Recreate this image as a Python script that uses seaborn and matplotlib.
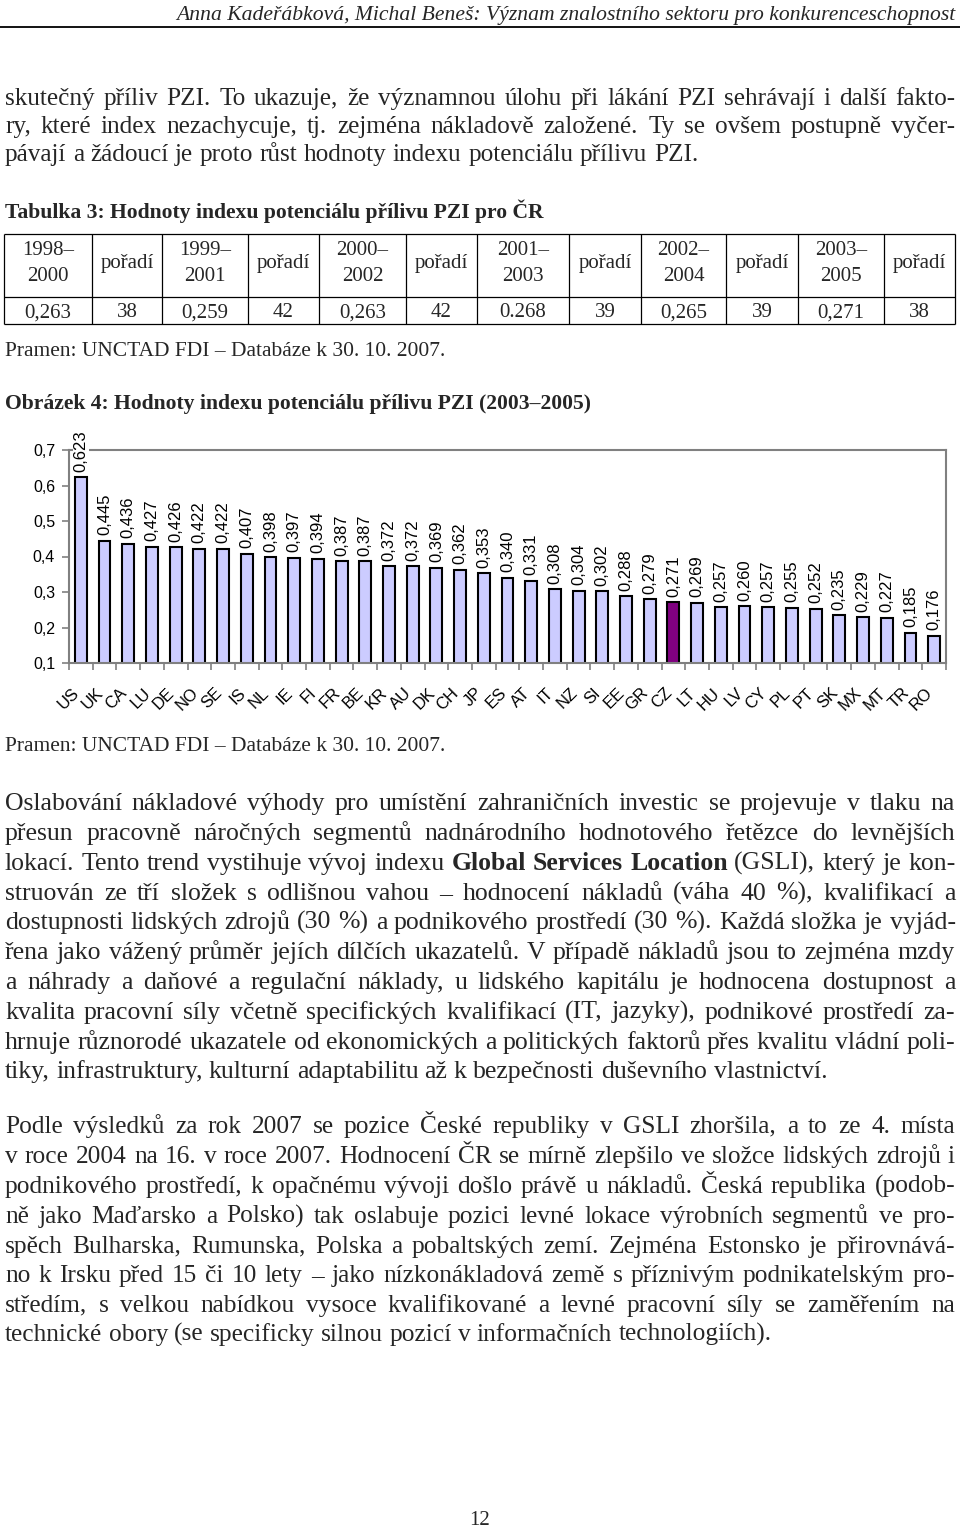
import matplotlib
matplotlib.use("Agg")
import matplotlib.pyplot as plt
import numpy as np
import pandas as pd
import seaborn as sns
from matplotlib.transforms import ScaledTranslation

# ---------------- data ----------------
countries = ["US", "UK", "CA", "LU", "DE", "NO", "SE", "IS", "NL", "IE", "FI", "FR",
             "BE", "KR", "AU", "DK", "CH", "JP", "ES", "AT", "IT", "NZ", "SI", "EE",
             "GR", "CZ", "LT", "HU", "LV", "CY", "PL", "PT", "SK", "MX", "MT", "TR", "RO"]
values = [0.623, 0.445, 0.436, 0.427, 0.426, 0.422, 0.422, 0.407, 0.398, 0.397, 0.394,
          0.387, 0.387, 0.372, 0.372, 0.369, 0.362, 0.353, 0.340, 0.331, 0.308, 0.304,
          0.302, 0.288, 0.279, 0.271, 0.269, 0.257, 0.260, 0.257, 0.255, 0.252, 0.235,
          0.229, 0.227, 0.185, 0.176]
highlight_country = "CZ"
y_ticks = [0.1, 0.2, 0.3, 0.4, 0.5, 0.6, 0.7]
y_tick_labels = ["0,1", "0,2", "0,3", "0,4", "0,5", "0,6", "0,7"]

table_periods = ["1998–2000", "1999–2001", "2000–2002", "2001–2003", "2002–2004", "2003–2005"]
table_values = ["0,263", "0,259", "0,263", "0.268", "0,265", "0,271"]
table_ranks = ["38", "42", "42", "39", "39", "38"]
rank_header = "pořadí"

header_text = "Anna Kadeřábková, Michal Beneš: Význam znalostního sektoru pro konkurenceschopnost"
para1 = [
    "skutečný příliv PZI. To ukazuje, že významnou úlohu při lákání PZI sehrávají i další fakto-",
    "ry, které index nezachycuje, tj. zejména nákladově založené. Ty se ovšem postupně vyčer-",
    "pávají a žádoucí je proto růst hodnoty indexu potenciálu přílivu PZI.",
]
table_title = "Tabulka 3: Hodnoty indexu potenciálu přílivu PZI pro ČR"
source_text = "Pramen: UNCTAD FDI – Databáze k 30. 10. 2007."
figure_title = "Obrázek 4: Hodnoty indexu potenciálu přílivu PZI (2003–2005)"
para2 = [
    "Oslabování nákladové výhody pro umístění zahraničních investic se projevuje v tlaku na",
    "přesun pracovně náročných segmentů nadnárodního hodnotového řetězce do levnějších",
    "lokací. Tento trend vystihuje vývoj indexu **Global Services Location** (GSLI), který je kon-",
    "struován ze tří složek s odlišnou vahou – hodnocení nákladů (váha 40 %), kvalifikací a",
    "dostupnosti lidských zdrojů (30 %) a podnikového prostředí (30 %). Každá složka je vyjád-",
    "řena jako vážený průměr jejích dílčích ukazatelů. V případě nákladů jsou to zejména mzdy",
    "a náhrady a daňové a regulační náklady, u lidského kapitálu je hodnocena dostupnost a",
    "kvalita pracovní síly včetně specifických kvalifikací (IT, jazyky), podnikové prostředí za-",
    "hrnuje různorodé ukazatele od ekonomických a politických faktorů přes kvalitu vládní poli-",
    "tiky, infrastruktury, kulturní adaptabilitu až k bezpečnosti duševního vlastnictví.",
]
para3 = [
    "Podle výsledků za rok 2007 se pozice České republiky v GSLI zhoršila, a to ze 4. místa",
    "v roce 2004 na 16. v roce 2007. Hodnocení ČR se mírně zlepšilo ve složce lidských zdrojů i",
    "podnikového prostředí, k opačnému vývoji došlo právě u nákladů. Česká republika (podob-",
    "ně jako Maďarsko a Polsko) tak oslabuje pozici levné lokace výrobních segmentů ve pro-",
    "spěch Bulharska, Rumunska, Polska a pobaltských zemí. Zejména Estonsko je přirovnává-",
    "no k Irsku před 15 či 10 lety – jako nízkonákladová země s příznivým podnikatelským pro-",
    "středím, s velkou nabídkou vysoce kvalifikované a levné pracovní síly se zaměřením na",
    "technické obory (se specificky silnou pozicí v informačních technologiích).",
]
page_number = "12"

# ---------------- setup ----------------
sns.set_theme(style="white")
SANS = ["Liberation Sans", "DejaVu Sans"]
SERIF = ["Liberation Serif", "DejaVu Serif"]
plt.rcParams["font.family"] = SANS

W, H = 960, 1529
fig = plt.figure(figsize=(W / 100, H / 100), dpi=100)
page = fig.add_axes([0, 0, 1, 1])
page.set_xlim(0, W)
page.set_ylim(H, 0)
page.set_axis_off()
renderer = fig.canvas.get_renderer()


def tw(s, size, weight="normal", style="normal"):
    t = page.text(0, 0, s, fontsize=size, family=SERIF, fontweight=weight, fontstyle=style)
    w = t.get_window_extent(renderer=renderer).width
    t.remove()
    return w


def px(size):
    return size * 100 / 72


def single(s, x, yc, target=None, size=None, ha="left", weight="normal", style="normal", base=20):
    if size is None:
        size = base * target / tw(s, base, weight, style)
    page.text(x, yc + 0.3 * px(size), s, fontsize=size, family=SERIF, fontweight=weight,
              fontstyle=style, ha=ha, va="baseline")
    return size


def tokens(line):
    out, bold = [], False
    for tok in line.split():
        if tok.startswith("**"):
            bold, tok = True, tok[2:]
        end = tok.endswith("**")
        if end:
            tok = tok[:-2]
        out.append((tok, bold))
        if end:
            bold = False
    return out


def paragraph(lines, x0, x1, y_centers, last_end, base=18):
    toks = [tokens(l) for l in lines]
    widths = [[tw(w, base, "bold" if b else "normal") for w, b in tk] for tk in toks]
    sp = tw("a a", base) - tw("aa", base)
    nat_last = sum(widths[-1]) + sp * (len(widths[-1]) - 1)
    scale = (last_end - x0) / nat_last
    for wl in widths[:-1]:
        need = sum(wl) + 0.45 * sp * (len(wl) - 1)
        scale = min(scale, (x1 - x0) / need)
    size = base * scale
    for i, (tk, wl) in enumerate(zip(toks, widths)):
        wl = [w * scale for w in wl]
        if i < len(toks) - 1 and len(wl) > 1:
            gap = (x1 - x0 - sum(wl)) / (len(wl) - 1)
        else:
            gap = sp * scale
        x = x0
        yb = y_centers[i] + 0.3 * px(size)
        for (w, b), ww in zip(tk, wl):
            page.text(x, yb, w, fontsize=size, family=SERIF,
                      fontweight="bold" if b else "normal", ha="left", va="baseline")
            x += ww + gap


# ---------------- page text ----------------
single(header_text, 955, 14, target=777, ha="right", style="italic")
page.plot([0, W], [27, 27], color="black", lw=1.3)

paragraph(para1, 5, 955, [97, 125, 153], 698)
single(table_title, 5, 211, target=540, weight="bold")

col_edges = [4, 92, 162, 248, 319, 406, 477, 569, 641, 726, 798, 884, 955]
row_edges = [234, 297, 324]
page.hlines(row_edges, col_edges[0], col_edges[-1], color="black", lw=0.9)
page.vlines(col_edges, row_edges[0], row_edges[-1], color="black", lw=0.9)
tsize = 15
for k in range(len(table_periods)):
    cx0 = (col_edges[2 * k] + col_edges[2 * k + 1]) / 2
    cx1 = (col_edges[2 * k + 1] + col_edges[2 * k + 2]) / 2
    a, b = table_periods[k].split("–")
    single(a + "–", cx0, 249, size=tsize, ha="center")
    single(b, cx0, 275, size=tsize, ha="center")
    single(rank_header, cx1, 262, size=tsize, ha="center")
    single(table_values[k], cx0, 311, size=tsize, ha="center")
    single(table_ranks[k], cx1, 311, size=tsize, ha="center")

single(source_text, 5, 350, target=440)
single(figure_title, 5, 403, target=585, weight="bold")
single(source_text, 5, 745, target=440)

paragraph(para2, 5, 955, [802, 832, 862, 892, 921, 951, 981, 1011, 1041, 1070], 827)
paragraph(para3, 5, 955, [1125, 1155, 1185, 1215, 1245, 1274, 1304, 1333], 772)
single(page_number, 480, 1519, size=15, ha="center")

# ---------------- chart ----------------
ax = fig.add_axes([69 / W, 1 - 663 / H, (946 - 69) / W, (663 - 450) / H])
df = pd.DataFrame({"country": countries, "value": values})
palette = {c: ("#800080" if c == highlight_country else "#CCCCFF") for c in countries}
sns.barplot(data=df, x="country", y="value", hue="country", palette=palette, legend=False,
            saturation=1, width=0.5, edgecolor="black", linewidth=1.5, ax=ax)
ax.set_ylim(0.1, 0.7)
ax.set_xlim(-0.5, len(countries) - 0.5)
ax.set_xlabel("")
ax.set_ylabel("")
ax.set_facecolor("white")
ax.grid(False)

ax.set_yticks(y_ticks)
ax.set_yticklabels(y_tick_labels, fontsize=11.5, family=SANS, color="black")
ax.set_xticks(range(len(countries)))
ax.set_xticklabels(countries, rotation=45, ha="right", va="top", rotation_mode="anchor",
                   fontsize=12, family=SANS, color="black")
ax.set_xticks(np.arange(-0.5, len(countries), 1), minor=True)
ax.tick_params(axis="x", which="major", length=0, pad=16, bottom=True)
ax.tick_params(axis="x", which="minor", length=5, width=1.2, color="#808080",
               direction="out", bottom=True)
ax.tick_params(axis="y", length=5, width=1.2, color="#808080", direction="out", pad=5, left=True)
for s in ax.spines.values():
    s.set_visible(True)
    s.set_color("#808080")
    s.set_linewidth(1.5)

shift = ScaledTranslation(-9 / 100, 0, fig.dpi_scale_trans)
for lab in ax.get_xticklabels():
    lab.set_transform(lab.get_transform() + shift)

for i, v in enumerate(values):
    ax.annotate(f"{v:.3f}".replace(".", ","), xy=(i, v), xytext=(0, 4),
                textcoords="offset points", rotation=90, ha="center", va="bottom",
                fontsize=12, family=SANS, color="black", annotation_clip=False,
                bbox=dict(boxstyle="square,pad=0.05", fc="white", ec="none"))

fig.savefig("out.png", dpi=100)
